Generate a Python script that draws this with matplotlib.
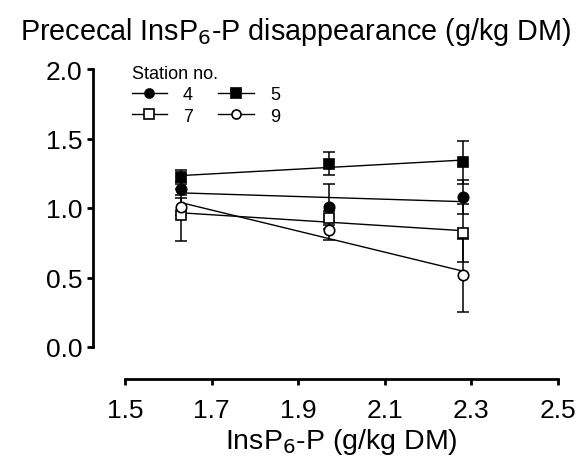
import numpy as np
import matplotlib
matplotlib.use("Agg")
import matplotlib.pyplot as plt

plt.rcParams['font.family'] = ['Liberation Sans', 'DejaVu Sans']

x_vals = [1.63, 1.97, 2.28]
stations = ["4", "5", "7", "9"]
means = {
    "4": [1.14, 1.01, 1.08],
    "5": [1.22, 1.32, 1.33],
    "7": [0.95, 0.93, 0.82],
    "9": [1.01, 0.84, 0.515],
}
errs = {
    "4": [0.05, 0.16, 0.12],
    "5": [0.05, 0.08, 0.155],
    "7": [0.19, 0.05, 0.21],
    "9": [0.06, 0.07, 0.265],
}
markers = {"4": "o", "5": "s", "7": "s", "9": "o"}
filled = {"4": True, "5": True, "7": False, "9": False}
x_ticks = [1.5, 1.7, 1.9, 2.1, 2.3, 2.5]
y_ticks = [0.0, 0.5, 1.0, 1.5, 2.0]

fig = plt.figure(figsize=(5.79, 4.64), dpi=100)
ax = fig.add_axes([125/579, 1-348/464, (558-125)/579, (348-70)/464])

xs = np.array(x_vals)
handles = {}
for s in stations:
    y = np.array(means[s])
    ax.errorbar(xs, y, yerr=errs[s], fmt='none', ecolor='black', elinewidth=1.1,
                capsize=4, capthick=1.1, zorder=2)
    k, b = np.polyfit(xs, y, 1)
    ax.plot(xs[[0, -1]], k*xs[[0, -1]] + b, color='black', lw=1.0, zorder=1)
    ax.plot(xs, y, linestyle='none', marker=markers[s], ms=7.5,
            mfc='black' if filled[s] else 'white', mec='black', mew=1.2, zorder=3)
    h, = ax.plot([], [], color='black', lw=1.0, marker=markers[s], ms=6.5,
                 mfc='black' if filled[s] else 'white', mec='black', mew=1.2)
    handles[s] = h

ax.set_xlim(1.5, 2.5)
ax.set_ylim(0, 2.0)
ax.set_xticks(x_ticks)
ax.set_xticklabels([f"{v:.1f}" for v in x_ticks])
ax.set_yticks(y_ticks)
ax.set_yticklabels([f"{v:.1f}" for v in y_ticks])
for sp in ['top', 'right']:
    ax.spines[sp].set_visible(False)
for sp in ['left', 'bottom']:
    ax.spines[sp].set_position(('outward', 23))
    ax.spines[sp].set_linewidth(2)
ax.tick_params(axis='both', direction='out', length=4.5, width=2, labelsize=19)
ax.tick_params(axis='x', pad=9)
ax.tick_params(axis='y', pad=3)
ax.set_xlabel("InsP$_6$-P (g/kg DM)", fontsize=20.5, labelpad=3)
fig.text(20/579, 1-32/464, "Prececal InsP$_6$-P disappearance (g/kg DM)",
         fontsize=20.7, ha='left', va='center')

order = ["4", "7", "5", "9"]
leg = fig.legend([handles[s] for s in order], order, ncol=2, frameon=False,
                 title="Station no.", title_fontsize=13, fontsize=13,
                 loc='upper left', bbox_to_anchor=(119/579, 1-53/464),
                 handlelength=1.95, columnspacing=1.4, labelspacing=0.25,
                 alignment='left', handletextpad=0.9, borderpad=0.2)

fig.savefig("out.png", dpi=100)
